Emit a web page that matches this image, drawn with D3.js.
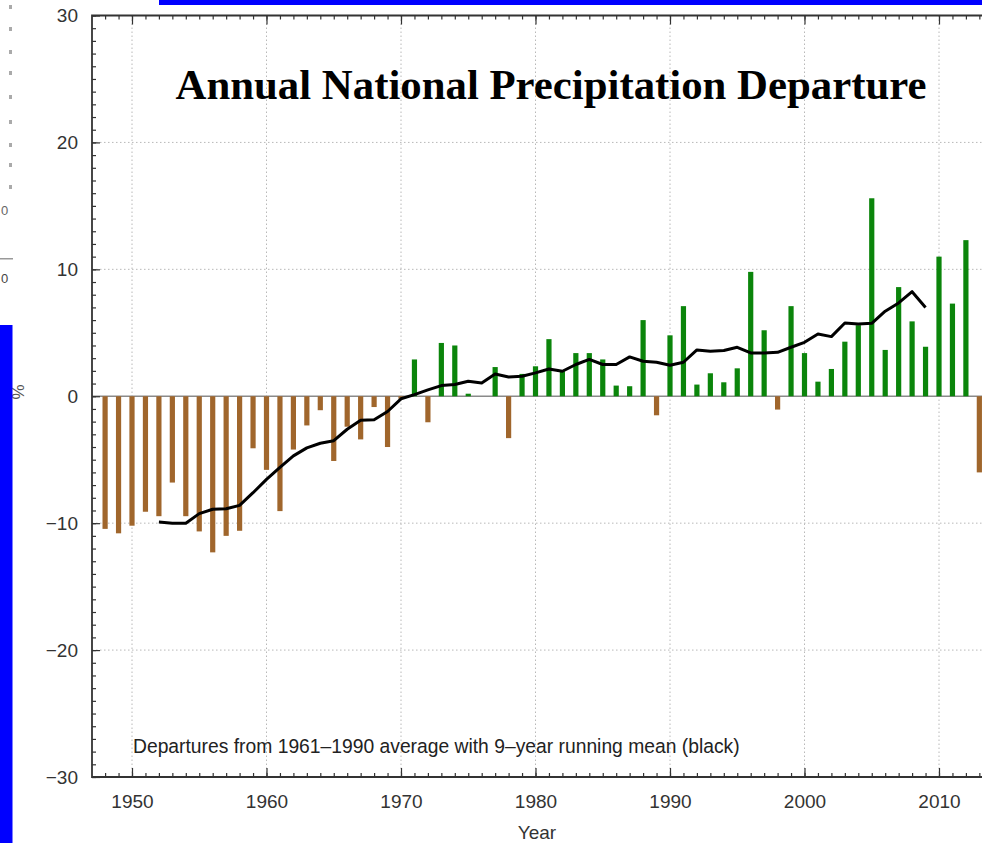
<!DOCTYPE html>
<html>
<head>
<meta charset="utf-8">
<title>Annual National Precipitation Departure</title>
<style>
  body { margin: 0; background: #fff; }
  svg { display: block; }
</style>
</head>
<body>
<script src="https://d3js.org/d3.v7.min.js"></script>
<script>
// yearly departures (%) 1948-2013
const years = d3.range(1948, 2014);
const departures = [
  -10.45, -10.8, -10.2, -9.1, -9.45, -6.8, -9.45, -10.65, -12.3, -11.0,
  -10.6, -4.1, -5.8, -9.05, -4.2, -2.3, -1.1, -5.1, -2.4, -3.4,
  -0.85, -4.0, -0.2, 2.9, -2.05, 4.2, 4.0, 0.2, 0.0, 2.3,
  -3.3, 1.76, 2.36, 4.5, 1.97, 3.4, 3.4, 2.9, 0.84, 0.79,
  6.0, -1.5, 4.8, 7.1, 0.92, 1.81, 1.1, 2.2, 9.8, 5.2,
  -1.05, 7.1, 3.4, 1.15, 2.15, 4.3, 5.6, 15.6, 3.65, 8.6,
  5.9, 3.9, 11.0, 7.3, 12.3, -6.0
];

// 9-year running mean 1952-2009
const meanYears = d3.range(1952, 2010);
const runningMean = [
  -9.9, -10.0, -10.0, -9.25, -8.9, -8.87, -8.6, -7.6, -6.55, -5.6,
  -4.7, -4.07, -3.7, -3.5, -2.6, -1.9, -1.85, -1.2, -0.2, 0.13,
  0.5, 0.84, 0.92, 1.18, 1.05, 1.76, 1.52, 1.57, 1.84, 2.15,
  1.97, 2.5, 2.9, 2.5, 2.5, 3.1, 2.76, 2.68, 2.44, 2.68,
  3.65, 3.54, 3.6, 3.86, 3.41, 3.41, 3.46, 3.86, 4.25, 4.9,
  4.7, 5.77, 5.7, 5.75, 6.7, 7.35, 8.24, 7.0
];

const xMajor = d3.range(1950, 2020, 10);
const yMajor = [-30, -20, -10, 0, 10, 20, 30];

const width = 982, height = 843;
const plotLeft = 92, plotTop = 15.5, plotBottom = 777;

var x = d3.scaleLinear().domain([1950, 2010]).range([132, 939]);
var y = d3.scaleLinear().domain([-30, 30]).range([plotBottom, plotTop]);
var xEnd = 2016;

var svg = d3.select("body").append("svg")
    .attr("width", width)
    .attr("height", height)
    .style("font-family", "'Liberation Sans', Arial, sans-serif");

// grid
svg.append("g").selectAll("line")
    .data(xMajor)
    .enter().append("line")
    .attr("x1", d => x(d)).attr("x2", d => x(d))
    .attr("y1", plotTop).attr("y2", plotBottom)
    .attr("stroke", "#b8b8b8")
    .attr("stroke-dasharray", "1.5,2.5");

svg.append("g").selectAll("line")
    .data(yMajor.filter(d => d != 0 && Math.abs(d) != 30))
    .enter().append("line")
    .attr("x1", plotLeft).attr("x2", width)
    .attr("y1", d => y(d)).attr("y2", d => y(d))
    .attr("stroke", "#b8b8b8")
    .attr("stroke-dasharray", "1.5,2.5");

// zero line
svg.append("line")
    .attr("x1", plotLeft).attr("x2", width)
    .attr("y1", y(0)).attr("y2", y(0))
    .attr("stroke", "#8a8a8a")
    .attr("stroke-width", 1.5);

// bars
svg.append("g").selectAll("rect")
    .data(years)
    .enter().append("rect")
    .attr("x", d => x(d) - 2.6)
    .attr("width", 5.2)
    .attr("y", (d, i) => y(Math.max(0, departures[i])))
    .attr("height", (d, i) => Math.abs(y(departures[i]) - y(0)))
    .attr("fill", (d, i) => departures[i] >= 0 ? "#0b850b" : "#a0662c");

// running mean
var line = d3.line()
    .x(d => x(d))
    .y((d, i) => y(runningMean[i]));

svg.append("path")
    .datum(meanYears)
    .attr("d", line)
    .attr("fill", "none")
    .attr("stroke", "#000")
    .attr("stroke-width", 3)
    .attr("stroke-linejoin", "round");

// axes
function styleAxis(g) {
    g.select(".domain").remove();
    g.selectAll("line").attr("stroke", "#333").attr("stroke-width", 1.2);
    g.selectAll("text").attr("fill", "#333").style("font-size", "19px")
        .style("font-family", "'Liberation Sans', Arial, sans-serif");
}

var minorYears = d3.range(1948, 2017);
var minorPct = d3.range(-30, 31);

svg.append("g")
    .attr("transform", "translate(0," + plotBottom + ")")
    .call(d3.axisBottom(x).tickValues(minorYears).tickSize(-4).tickFormat(""))
    .call(styleAxis);
svg.append("g")
    .attr("transform", "translate(0," + plotBottom + ")")
    .call(d3.axisBottom(x).tickValues(xMajor).tickSize(-9).tickPadding(18).tickFormat(d3.format("d")))
    .call(styleAxis);

svg.append("g")
    .attr("transform", "translate(0," + plotTop + ")")
    .call(d3.axisTop(x).tickValues(minorYears).tickSize(-4).tickFormat(""))
    .call(styleAxis);
svg.append("g")
    .attr("transform", "translate(0," + plotTop + ")")
    .call(d3.axisTop(x).tickValues(xMajor).tickSize(-9).tickFormat(""))
    .call(styleAxis);

svg.append("g")
    .attr("transform", "translate(" + plotLeft + ",0)")
    .call(d3.axisLeft(y).tickValues(minorPct).tickSize(-4).tickFormat(""))
    .call(styleAxis);
svg.append("g")
    .attr("transform", "translate(" + plotLeft + ",0)")
    .call(d3.axisLeft(y).tickValues(yMajor).tickSize(-8).tickPadding(14))
    .call(styleAxis);

// frame
svg.append("path")
    .attr("d", "M" + x(xEnd) + "," + plotTop + "H" + plotLeft + "V" + plotBottom + "H" + x(xEnd))
    .attr("fill", "none")
    .attr("stroke", "#333")
    .attr("stroke-width", 1.8);

// titles
svg.append("text")
    .attr("x", 551).attr("y", 99)
    .attr("text-anchor", "middle")
    .style("font-family", "'Liberation Serif', 'Times New Roman', serif")
    .style("font-weight", "bold")
    .style("font-size", "42.8px")
    .text("Annual National Precipitation Departure");

svg.append("text")
    .attr("x", 133).attr("y", 753)
    .style("font-size", "19.3px")
    .attr("fill", "#222")
    .text("Departures from 1961\u20131990 average with 9\u2013year running mean (black)");

svg.append("text")
    .attr("x", 537).attr("y", 839)
    .attr("text-anchor", "middle")
    .style("font-size", "19px")
    .attr("fill", "#333")
    .text("Year");

svg.append("text")
    .attr("transform", "translate(24,392) rotate(-90)")
    .attr("text-anchor", "middle")
    .style("font-size", "17px")
    .attr("fill", "#555")
    .text("%");

// cropped page edges
svg.append("rect").attr("x", 159).attr("y", 0).attr("width", width - 159).attr("height", 5).attr("fill", "#0000ff");
svg.append("rect").attr("x", 0).attr("y", 325).attr("width", 12.5).attr("height", height - 325).attr("fill", "#0000ff");

// leftover fragments of the neighbouring page (top-left)
var scraps = [5, 27, 50, 71, 95, 120, 143, 163, 185];
svg.append("g").selectAll("rect")
    .data(scraps)
    .enter().append("rect")
    .attr("x", 9).attr("y", d => d)
    .attr("width", 3).attr("height", 4)
    .attr("fill", "#aaa");
svg.append("text").attr("x", 1).attr("y", 215).style("font-size", "13px").attr("fill", "#666").text("0");
svg.append("rect").attr("x", 0).attr("y", 258).attr("width", 13).attr("height", 1.5).attr("fill", "#999");
svg.append("text").attr("x", 1).attr("y", 283).style("font-size", "13px").attr("fill", "#444").text("0");
</script>
</body>
</html>
